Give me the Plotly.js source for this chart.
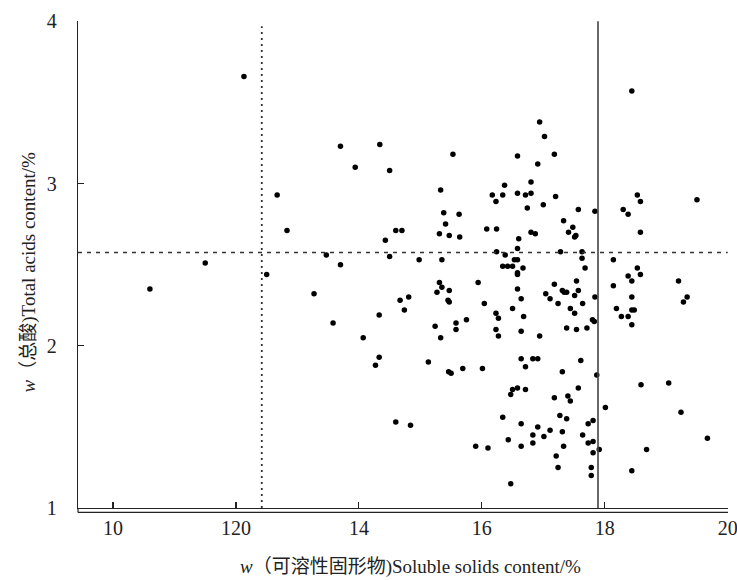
<!DOCTYPE html>
<html>
<head>
<meta charset="utf-8">
<script src="https://cdn.plot.ly/plotly-3.0.1.min.js"></script>
<style>html,body{margin:0;padding:0;background:#fff;}#chart{width:737px;height:580px;}</style>
</head>
<body>
<div id="chart"></div>
<script>
// Soluble solids content (%)
const solubleSolids = [
12.13,13.70,14.34,13.94,14.50,12.67,12.83,14.60,14.70,14.43,13.47,14.50,11.50,13.70,10.60,12.50,13.27,13.58,14.33,14.07,14.33,14.27,14.60,14.84,14.67,14.81,14.74,14.98,
15.53,15.33,15.38,15.41,15.63,15.31,15.47,15.64,15.35,15.31,15.35,15.27,15.47,15.45,15.47,15.94,15.24,15.58,15.75,15.58,15.33,15.13,15.46,15.50,15.69,16.01,15.90,16.10,
16.94,17.02,16.58,17.18,16.91,16.37,16.80,16.17,16.34,16.23,16.58,16.71,16.80,16.74,17.00,17.20,16.08,16.24,16.80,16.87,16.60,16.58,16.24,16.38,16.53,16.58,16.34,16.42,16.50,16.67,16.58,16.58,16.58,16.64,16.50,16.04,16.23,16.27,16.23,16.27,16.68,16.64,16.94,16.64,16.83,16.91,16.71,16.47,16.50,16.58,16.71,16.34,16.64,16.91,16.83,16.83,17.01,16.43,16.64,16.47,
17.57,17.84,17.33,17.41,17.48,17.51,17.53,17.28,17.63,17.63,17.68,17.18,17.04,17.11,17.31,17.34,17.38,17.54,17.57,17.51,17.24,17.44,17.64,17.84,17.51,17.80,17.83,17.38,17.54,17.71,17.61,17.31,17.87,17.18,17.40,17.44,17.57,17.27,17.38,17.73,17.81,17.11,17.31,17.64,17.33,17.73,17.81,17.91,17.81,17.21,17.24,17.78,17.78,
18.44,18.30,18.38,18.53,18.58,19.50,18.58,18.14,18.53,18.58,18.14,18.38,18.44,19.20,19.34,19.28,18.19,18.27,18.38,18.44,18.48,18.44,18.44,18.01,18.59,19.04,19.24,19.67,18.68,18.44
];
// Total acids content (%)
const totalAcids = [
3.66,3.23,3.24,3.10,3.08,2.93,2.71,2.71,2.71,2.65,2.56,2.55,2.51,2.50,2.35,2.44,2.32,2.14,2.19,2.05,1.93,1.88,1.53,1.51,2.28,2.30,2.22,2.53,
3.18,2.96,2.82,2.75,2.81,2.69,2.68,2.67,2.53,2.39,2.36,2.33,2.34,2.28,2.27,2.39,2.12,2.14,2.16,2.10,2.05,1.90,1.84,1.83,1.86,1.86,1.38,1.37,
3.38,3.29,3.17,3.18,3.12,2.99,3.01,2.93,2.93,2.89,2.94,2.93,2.94,2.85,2.87,2.92,2.72,2.72,2.70,2.69,2.66,2.60,2.58,2.56,2.53,2.53,2.49,2.49,2.49,2.48,2.45,2.44,2.35,2.29,2.23,2.26,2.20,2.17,2.10,2.06,2.18,2.09,2.06,1.92,1.92,1.92,1.87,1.70,1.73,1.74,1.73,1.56,1.52,1.50,1.45,1.40,1.44,1.42,1.38,1.15,
2.84,2.83,2.77,2.70,2.73,2.67,2.68,2.58,2.58,2.54,2.48,2.38,2.32,2.29,2.34,2.33,2.33,2.40,2.34,2.31,2.26,2.23,2.26,2.30,2.20,2.16,2.15,2.11,2.10,2.11,1.91,1.84,1.82,1.68,1.69,1.66,1.74,1.57,1.55,1.52,1.54,1.48,1.47,1.45,1.38,1.40,1.41,1.36,1.34,1.32,1.25,1.25,1.20,
3.57,2.84,2.81,2.93,2.89,2.90,2.70,2.53,2.48,2.44,2.37,2.43,2.40,2.40,2.30,2.27,2.23,2.18,2.18,2.22,2.22,2.30,2.13,1.62,1.76,1.77,1.59,1.43,1.36,1.23
];
// Reference lines
const solidsDashedRef = 12.42;
const solidsSolidRef = 17.89;
const acidsDashedRef = 2.575;
// Ticks
const xTickVals = [10, 12, 14, 16, 18, 20];
const xTickText = ["10", "120", "14", "16", "18", "20"];
const yTickVals = [1, 2, 3, 4];
const yTickText = ["1", "2", "3", "4"];
// Axis titles
const xTitle = '<i>w</i>（可溶性固形物)Soluble solids content/%';
const yTitle = '<i>w</i>（总酸)Total acids content/%';

const xRange = [9.43, 20.005];
const yRange = [1, 4.002];
const serif = "Liberation Serif, Times New Roman, Noto Sans CJK SC, serif";

const trace = {
  x: solubleSolids, y: totalAcids, type: 'scatter', mode: 'markers',
  marker: {color: '#000', size: 5.5}, hoverinfo: 'x+y', showlegend: false, cliponaxis: false
};

const layout = {
  width: 737, height: 580,
  margin: {l: 78, r: 9, t: 21, b: 72, pad: 0},
  paper_bgcolor: '#fff', plot_bgcolor: '#fff',
  font: {family: serif, size: 20, color: '#222'},
  xaxis: {
    range: xRange, tickvals: xTickVals, ticktext: xTickText,
    showgrid: false, zeroline: false, showline: true, linecolor: '#222', linewidth: 1.2,
    ticks: 'inside', ticklen: 6, tickwidth: 1.2, tickcolor: '#222',
    tickfont: {family: serif, size: 20, color: '#222'},
    ticklabelstandoff: 2, ticklabeloverflow: 'allow',
    title: {text: ''}
  },
  yaxis: {
    range: yRange, tickvals: yTickVals, ticktext: yTickText,
    showgrid: false, zeroline: false, showline: true, linecolor: '#222', linewidth: 1.2,
    ticks: 'inside', ticklen: 6, tickwidth: 1.2, tickcolor: '#222',
    tickfont: {family: serif, size: 20, color: '#222'},
    ticklabelstandoff: 16,
    title: {text: ''}
  },
  annotations: [
    {text: xTitle, xref: 'paper', yref: 'paper', x: 0.512, y: -0.122, xanchor: 'center', yanchor: 'middle',
     showarrow: false, font: {family: serif, size: 19, color: '#222'}},
    {text: yTitle, xref: 'paper', yref: 'paper', x: -0.076, y: 0.485, xanchor: 'center', yanchor: 'middle',
     textangle: -90, showarrow: false, font: {family: serif, size: 19, color: '#222'}}
  ],
  shapes: [
    {type: 'line', xref: 'x', yref: 'y', x0: solidsDashedRef, x1: solidsDashedRef, y0: yRange[0], y1: 3.97,
     line: {color: '#333', width: 1.8, dash: '2px,4px'}},
    {type: 'line', xref: 'x', yref: 'y', x0: xRange[0], x1: 20, y0: acidsDashedRef, y1: acidsDashedRef,
     line: {color: '#333', width: 1.5, dash: '4px,5px'}},
    {type: 'line', xref: 'x', yref: 'y', x0: solidsSolidRef, x1: solidsSolidRef, y0: yRange[0], y1: 4,
     line: {color: '#444', width: 1.6}},
    {type: 'line', xref: 'paper', yref: 'paper', x0: 0, x1: 1, y0: -0.009, y1: -0.009,
     line: {color: '#222', width: 1.2}},
    {type: 'line', xref: 'paper', yref: 'paper', x0: 0, x1: 0, y0: -0.009, y1: 0,
     line: {color: '#222', width: 1.2}}
  ]
};

Plotly.newPlot('chart', [trace], layout, {staticPlot: true, displayModeBar: false});
</script>
</body>
</html>
